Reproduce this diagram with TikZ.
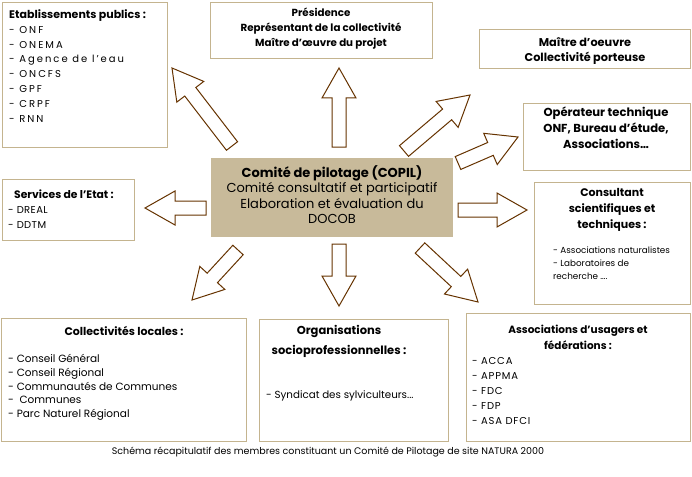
\documentclass[tikz,border=0pt]{standalone}
\usepackage{fontspec}
\setmainfont{Poppins}
\usetikzlibrary{calc}
\definecolor{boxline}{HTML}{C4B48F}
\definecolor{copilfill}{HTML}{C8BA9A}
\definecolor{arrowline}{HTML}{663300}
\tikzset{
  box/.style={draw=boxline, line width=1.3pt, fill=white, anchor=north west, inner sep=0pt},
  copilbox/.style={fill=copilfill, draw=none, anchor=north west, inner sep=0pt},
  ttl/.style={font=\fontsize{9}{15}\selectfont\bfseries, align=center, inner sep=0pt, anchor=north},
  lst/.style={font=\fontsize{8.5}{14.8}\selectfont, align=left, inner sep=0pt, anchor=north west},
  barrow/.style={draw=arrowline, line width=1pt, fill=white, line join=miter},
}
\newcommand{\blockarrow}[2]{%
  \coordinate (ba-b) at ($(#2)!30pt!(#1)$);
  \draw[barrow] ($(#1)!7pt!90:(#2)$) -- ($(ba-b)!7pt!90:(#2)$) -- ($(ba-b)!17pt!90:(#2)$)
    -- (#2) -- ($(ba-b)!17pt!-90:(#2)$) -- ($(ba-b)!7pt!-90:(#2)$) -- ($(#1)!7pt!-90:(#2)$) -- cycle;
}
\begin{document}
\begin{tikzpicture}[x=1pt,y=-1pt]
\useasboundingbox (0,0) rectangle (692,476);
\fill[white] (0,0) rectangle (692,476);

% boxes
\node[box, minimum width=165pt, minimum height=145pt] (etab) at (2,2) {};
\node[box, minimum width=222pt, minimum height=56pt] (pres) at (210,2) {};
\node[box, minimum width=211pt, minimum height=39pt] (moe) at (479,29) {};
\node[box, minimum width=167pt, minimum height=67pt] (oper) at (523,103) {};
\node[box, minimum width=156pt, minimum height=122pt] (cons) at (534,182) {};
\node[box, minimum width=132pt, minimum height=61pt] (serv) at (2,179) {};
\node[copilbox, minimum width=242pt, minimum height=79pt] (copil) at (211,158) {};
\node[box, minimum width=245pt, minimum height=123pt] (coll) at (1,318) {};
\node[box, minimum width=189pt, minimum height=122pt] (orga) at (259,319) {};
\node[box, minimum width=224pt, minimum height=128pt] (asso) at (466,313) {};

% texts
\node[ttl, anchor=north west, font=\fontsize{11}{15}\selectfont\bfseries] (etab-t) at (9,9) {Etablissements publics :};
\node[lst, font=\fontsize{10}{14.8}\selectfont\addfontfeatures{LetterSpace=20}] (etab-l) at (9,26) {- ONF\\- ONEMA\\- Agence de l'eau\\- ONCFS\\- GPF\\- CRPF\\- RNN};

\node[ttl, font=\fontsize{10.3}{15}\selectfont\bfseries] (pres-t) at (321,8) {Présidence\\Représentant de la collectivité\\Maître d’œuvre du projet};

\node[ttl, font=\fontsize{11.3}{15}\selectfont\bfseries] (moe-t) at (585,37) {Maître d'oeuvre\\Collectivité porteuse};

\node[ttl, font=\fontsize{11.6}{16}\selectfont\bfseries] (oper-t) at (606,107) {Opérateur technique\\ONF, Bureau d’étude,\\Associations…};

\node[ttl, font=\fontsize{11}{16}\selectfont\bfseries] (cons-t) at (612,188) {Consultant\\scientifiques et\\techniques :};
\node[lst, font=\fontsize{8.8}{12.8}\selectfont] (cons-l) at (553,247) {- Associations naturalistes\\- Laboratoires de\\recherche ….};

\node[ttl, anchor=north west, font=\fontsize{10.8}{15}\selectfont\bfseries] (serv-t) at (14,190) {Services de l'Etat :};
\node[lst, font=\fontsize{10}{15}\selectfont\addfontfeatures{LetterSpace=4}] (serv-l) at (8,206) {- DREAL\\- DDTM};

\node[ttl, font=\fontsize{13}{15.5}\selectfont] (copil-t) at (332,165) {\textbf{Comité de pilotage (COPIL)}\\Comité consultatif et participatif\\Elaboration et évaluation du\\DOCOB};

\node[ttl, font=\fontsize{11}{15}\selectfont\bfseries] (coll-t) at (124,326) {Collectivités locales :};
\node[lst, font=\fontsize{10.5}{13.8}\selectfont] (coll-l) at (8,354) {- Conseil Général\\- Conseil Régional\\- Communautés de Communes\\-\ \ Communes\\- Parc Naturel Régional};

\node[ttl, font=\fontsize{11.5}{20}\selectfont\bfseries] (orga-t) at (339,325) {Organisations\\socioprofessionnelles :};
\node[lst, font=\fontsize{10.3}{13}\selectfont] (orga-l) at (266,390) {- Syndicat des sylviculteurs...};

\node[ttl, font=\fontsize{10.5}{16}\selectfont\bfseries] (asso-t) at (578,325) {Associations d'usagers et\\fédérations :};
\node[lst, font=\fontsize{10}{15}\selectfont\addfontfeatures{LetterSpace=8}] (asso-l) at (472,357) {- ACCA\\- APPMA\\- FDC\\- FDP\\- ASA DFCI};

\node[inner sep=0pt, font=\fontsize{9.5}{10}\selectfont] (caption) at (328,452) {Schéma récapitulatif des membres constituant un  Comité de Pilotage de site NATURA 2000};

% arrows: tail and tip coordinates
\coordinate (a1t) at (339,147); \coordinate (a1h) at (339,68);
\coordinate (a2t) at (232,146); \coordinate (a2h) at (172,68);
\coordinate (a3t) at (404,151); \coordinate (a3h) at (470,95);
\coordinate (a4t) at (458,163); \coordinate (a4h) at (518,137);
\coordinate (a5t) at (458,210); \coordinate (a5h) at (527,210);
\coordinate (a6t) at (206,208); \coordinate (a6h) at (145,208);
\coordinate (a7t) at (238,250); \coordinate (a7h) at (192,300);
\coordinate (a8t) at (339,244); \coordinate (a8h) at (339,306);
\coordinate (a9t) at (420,248); \coordinate (a9h) at (478,302);
\blockarrow{a1t}{a1h}
\blockarrow{a2t}{a2h}
\blockarrow{a3t}{a3h}
\blockarrow{a4t}{a4h}
\blockarrow{a5t}{a5h}
\blockarrow{a6t}{a6h}
\blockarrow{a7t}{a7h}
\blockarrow{a8t}{a8h}
\blockarrow{a9t}{a9h}
\end{tikzpicture}
\end{document}
